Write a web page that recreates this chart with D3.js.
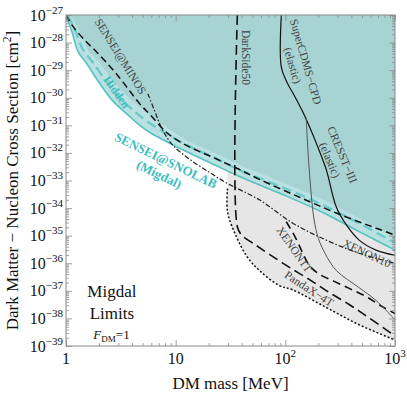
<!DOCTYPE html>
<html>
<head>
<meta charset="utf-8">
<script src="https://cdn.jsdelivr.net/npm/d3@7"></script>
<style>
  body { margin: 0; background: #fff; }
  text { font-family: "Liberation Serif", "DejaVu Serif", serif; }
</style>
</head>
<body>
<svg id="chart" width="407" height="396"></svg>
<script>
// ---- data: [DM mass in MeV, cross section in cm^2] ----
const snolabMigdal = [[1,1e-27],[1.135,2.4e-28],[1.285,4.8e-29],[1.55,1.7e-29],[2.04,3.2e-30],[2.67,7.7e-31],[3.59,2.6e-31],[4.71,1.0e-31],[5.81,5.5e-32],[11.6,1.3e-32],[23.6,3.4e-33],[38.2,1.4e-33],[88,3.5e-34],[204,8.0e-35],[471,1.4e-35],[1000,3.0e-36]];
const snolabHidden = [[1.04,1e-27],[1.23,2.4e-28],[1.43,5.5e-29],[1.76,1.9e-29],[2.31,4.1e-30],[2.97,1.17e-30],[3.98,3.9e-31],[5.23,1.6e-31],[11.6,2.3e-32],[23.6,6.2e-33],[38.2,2.4e-33],[88,6.3e-34],[204,1.5e-34],[471,2.8e-35],[1000,5.5e-36]];
const snolabBandTop = [[1.09,1e-27],[1.34,2.4e-28],[1.58,5.5e-29],[1.95,2.2e-29],[2.62,4.8e-30],[3.37,1.5e-30],[4.5,5.4e-31],[5.8,2.4e-31],[11.6,3.5e-32],[23.6,9.3e-33],[38.2,3.7e-33],[88,9.5e-34],[204,2.3e-34],[471,4.3e-35],[1000,8.5e-36]];
const senseiMinos = [[1,1e-27],[1.135,4.3e-28],[1.46,1.3e-28],[1.91,4.5e-29],[2.91,7.0e-30],[4.71,6.0e-31],[5.81,2.5e-31],[8.28,5.5e-32],[11.6,2.2e-32],[23.6,6.0e-33],[38.2,2.5e-33],[58,1.1e-33],[134,2.5e-34],[310,6.0e-35],[1000,1.05e-35]];
const xenon10 = [[5.57,1.4e-30],[6.44,3.3e-31],[7.46,7.9e-32],[9.2,2.1e-32],[13.4,5.9e-33],[20.4,1.95e-33],[29.7,7.8e-34],[58,2.0e-34],[116,2.9e-35],[236,6.9e-36],[471,2.3e-36],[1000,1.0e-36]];
const pandax4t = [[29.7,5.1e-34],[29.7,7.4e-35],[35.9,8.9e-36],[45.2,1.65e-36],[58,5.5e-37],[88,1.55e-37],[116,1.1e-37],[236,2.5e-38],[471,5.9e-39],[1000,1.65e-39]];
const darkside50 = [[36.5,1e-27],[36.5,2.1e-35],[40,1.05e-35],[52.3,4.9e-36],[71.6,2.1e-36],[109,7.1e-37],[165,2.6e-37],[251,8.7e-38],[382,3.2e-38],[580,1.05e-38],[1000,2.3e-39]];
const xenon1t = [[102,3.2e-35],[123,8.9e-36],[143,2.5e-36],[165,8.5e-37],[204,4.0e-37],[279,2.2e-37],[382,1.23e-37],[545,6.2e-38],[762,2.7e-38],[1000,1.5e-38]];
const superCdms = [[92,1e-27],[92,1.26e-29],[104,3.5e-30],[121,1.18e-30],[143,3.3e-31],[165,9.5e-32],[196,1.8e-32],[236,2.5e-33],[291,1.12e-34],[359,2.5e-35],[471,6.9e-36],[671,3.0e-36],[1000,1.95e-36]];
const cresst3 = [[155,1.85e-31],[162,7.6e-33],[172,3.3e-34],[183,3.7e-35],[200,8e-36],[230,2.3e-36],[291,5.5e-37],[471,1.3e-37],[671,4.5e-38],[1000,8.9e-39]];

const xMajor = [1, 10, 100, 1000];
const xLabels = ["1", "10", "10|2", "10|3"];
const yExponents = d3.range(-27, -40, -1);

// text labels: [lines, mass, sigma, angle, class]
const labels = [
  [["SENSEI@MINOS"], 3.15, 3.2e-29, 58, "lab"],
  [["Hidden"], 2.91, 1.6e-30, 55, "teal"],
  [["SENSEI@SNOLAB", "(Migdal)"], 7.6, 3.0e-33, 26, "teal big"],
  [["DarkSide50"], 43.5, 2.9e-29, 90, "lab"],
  [["SuperCDMS\u2212CPD", "(elastic)"], 134, 1.74e-29, 74, "lab"],
  [["CRESST\u2212III", "(elastic)"], 291, 6.9e-33, 67, "lab"],
  [["XENON1T"], 121, 3.2e-36, 55, "lab"],
  [["XENON10"], 556, 2.3e-36, 25, "lab"],
  [["PandaX\u22124T"], 165, 1.2e-37, 33, "lab"],
  [["Migdal", "Limits"], 2.62, 3.9e-38, 0, "legend"]
];

const W = 407, H = 396;
const m = {l: 66, r: 395, t: 15, b: 346};
const svg = d3.select("#chart");

const x = d3.scaleLog().domain([1, 1000]).range([m.l, m.r]);
const y = d3.scaleLog().domain([1e-39, 1e-27]).range([m.b, m.t]);

svg.append("defs").append("clipPath").attr("id", "plot")
  .append("rect").attr("x", m.l).attr("y", m.t)
  .attr("width", m.r - m.l).attr("height", m.b - m.t);

const line = d3.line()
  .x(d => x(d[0])).y(d => y(d[1]))
  .curve(d3.curveCatmullRom.alpha(0.5));

const g = svg.append("g").attr("clip-path", "url(#plot)");

// fill above a curve up to the top of the plot
function fillAbove(data) {
  return line(data) + `L${x(1000) + 5},${y(1e-27) - 5}L${x(1) - 5},${y(1e-27) - 5}Z`;
}

// grey excluded region under the existing limits
g.append("path")
  .attr("d", line(pandax4t) + `L${x(1000) + 5},${y(1e-27)}L${x(pandax4t[0][0])},${y(1e-27)}Z`)
  .attr("fill", "#e6e6e6");

g.append("path").attr("d", fillAbove(snolabMigdal)).attr("fill", "#b9e1e1");
g.append("path").attr("d", fillAbove(snolabBandTop)).attr("fill", "#a7d3d3");

function drawLine(data, color, width, dash) {
  g.append("path")
    .attr("d", line(data))
    .attr("fill", "none")
    .attr("stroke", color)
    .attr("stroke-width", width)
    .attr("stroke-dasharray", dash || null);
}

drawLine(snolabMigdal, "#55c1c1", 1.6);
drawLine(snolabHidden, "#6ccaca", 2.4, "10,5");
drawLine(senseiMinos, "#111", 1.5, "7,4");
drawLine(xenon10, "#222", 1.2, "5,2,1.5,2");
drawLine(pandax4t, "#111", 1.5, "2,2");
drawLine(darkside50, "#111", 1.6, "10,5");
drawLine(xenon1t, "#111", 1.6, "8,5");
drawLine(superCdms, "#111", 1.2);
drawLine(cresst3, "#555", 1.0);

// labels
labels.forEach(([lines, mass, sig, ang, cls]) => {
  const big = cls.includes("big");
  const legend = cls.includes("legend");
  const fs = legend ? 17 : (big ? 13 : 11.5);
  const lh = legend ? 22 : fs * 1.2;
  const t = svg.append("text")
    .attr("transform", `translate(${x(mass)},${y(sig)}) rotate(${ang})`)
    .attr("text-anchor", "middle")
    .attr("font-size", fs)
    .attr("fill", cls.includes("teal") ? "#3dbdbd" : (legend ? "#111" : "#444"))
    .attr("font-weight", cls.includes("teal") ? "bold" : null);
  lines.forEach((s, i) => {
    t.append("tspan").attr("x", 0)
      .attr("y", (i - (lines.length - 1) / 2) * lh + fs * 0.35)
      .text(s);
  });
});

// F_DM = 1
const fdm = svg.append("text")
  .attr("x", x(2.6)).attr("y", y(2.5e-39) + 4)
  .attr("text-anchor", "middle").attr("font-size", 13).attr("fill", "#111");
fdm.append("tspan").attr("font-style", "italic").text("F");
fdm.append("tspan").attr("font-size", 9).attr("dy", 3).text("DM");
fdm.append("tspan").attr("dy", -3).text("=1");

// ticks on all four sides (inward)
const xMinor = [];
[1, 10, 100].forEach(d => d3.range(2, 10).forEach(k => xMinor.push(k * d)));
const yMinor = [];
yExponents.slice(1).forEach(e => d3.range(2, 10).forEach(k => yMinor.push(k * Math.pow(10, e))));
const yMajor = yExponents.map(e => Math.pow(10, e));

function ticks(axis, tx, ty, vals, size) {
  const a = svg.append("g").attr("transform", `translate(${tx},${ty})`)
    .attr("color", "#8a8a8a")
    .call(axis.tickValues(vals).tickSize(size).tickFormat(""));
  a.select(".domain").remove();
  a.selectAll("line").attr("stroke-width", 0.8);
}
ticks(d3.axisTop(x), 0, m.b, xMajor, 6);
ticks(d3.axisTop(x), 0, m.b, xMinor, 3);
ticks(d3.axisBottom(x), 0, m.t, xMajor, 6);
ticks(d3.axisBottom(x), 0, m.t, xMinor, 3);
ticks(d3.axisRight(y), m.l, 0, yMajor, 6);
ticks(d3.axisRight(y), m.l, 0, yMinor, 3);
ticks(d3.axisLeft(y), m.r, 0, yMajor, 6);
ticks(d3.axisLeft(y), m.r, 0, yMinor, 3);

svg.append("rect")
  .attr("x", m.l).attr("y", m.t).attr("width", m.r - m.l).attr("height", m.b - m.t)
  .attr("fill", "none").attr("stroke", "#8a8a8a").attr("stroke-width", 1);

// tick labels
yExponents.forEach(e => {
  const t = svg.append("text")
    .attr("x", m.l - 3).attr("y", y(Math.pow(10, e)) + 5.5)
    .attr("text-anchor", "end").attr("font-size", 16).attr("fill", "#111");
  t.append("tspan").text("10");
  t.append("tspan").attr("font-size", 11).attr("dy", -7).text("\u2212" + Math.abs(e));
});
xMajor.forEach((v, i) => {
  const parts = xLabels[i].split("|");
  const t = svg.append("text")
    .attr("x", x(v)).attr("y", 364)
    .attr("text-anchor", "middle").attr("font-size", 16).attr("fill", "#111");
  t.append("tspan").text(parts[0]);
  if (parts[1]) t.append("tspan").attr("font-size", 11).attr("dy", -7).text(parts[1]);
});

// axis titles
svg.append("text")
  .attr("x", (m.l + m.r) / 2).attr("y", 389)
  .attr("text-anchor", "middle").attr("font-size", 17).attr("fill", "#111")
  .text("DM mass [MeV]");
const yt = svg.append("text")
  .attr("transform", `translate(18,${(m.t + m.b) / 2}) rotate(-90)`)
  .attr("text-anchor", "middle").attr("font-size", 17).attr("fill", "#111");
yt.append("tspan").text("Dark Matter \u2212 Nucleon Cross Section [cm");
yt.append("tspan").attr("font-size", 11.5).attr("dy", -7).text("2");
yt.append("tspan").attr("dy", 7).text("]");
</script>
</body>
</html>
